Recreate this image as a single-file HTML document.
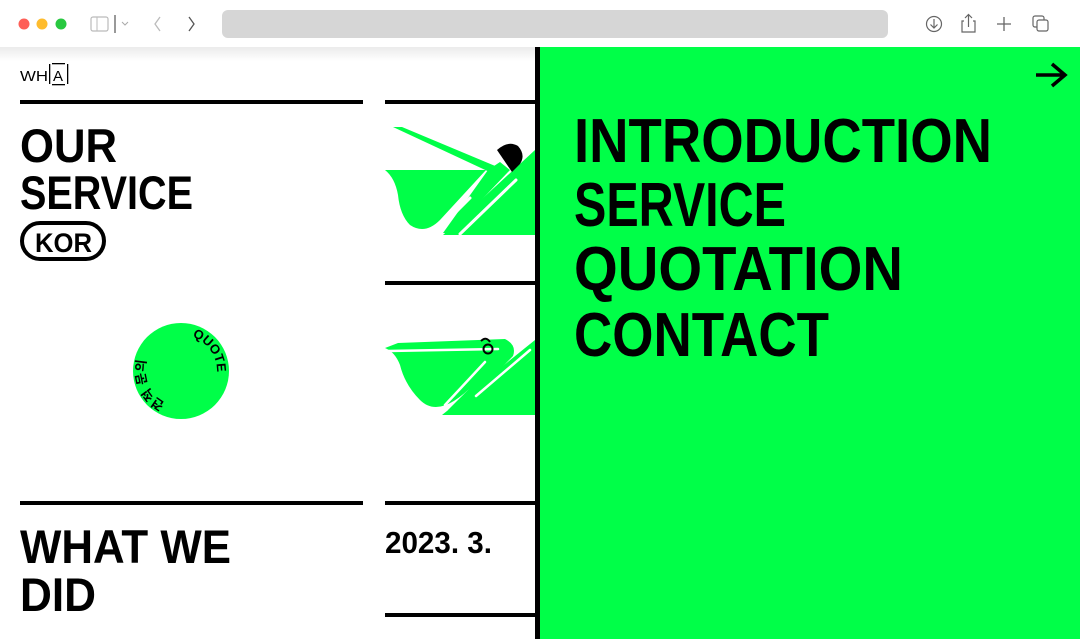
<!DOCTYPE html>
<html><head><meta charset="utf-8"><style>
html,body{margin:0;padding:0;background:#fff;}
body{width:1080px;height:639px;overflow:hidden;}
svg{display:block;}
</style></head><body>
<svg width="1080" height="639" viewBox="0 0 1080 639" xmlns="http://www.w3.org/2000/svg" font-family="'Liberation Sans','Noto Sans CJK KR',sans-serif">
<defs>
<linearGradient id="sh" x1="0" y1="0" x2="0" y2="1"><stop offset="0" stop-color="#000" stop-opacity="0.08"/><stop offset="1" stop-color="#000" stop-opacity="0"/></linearGradient>
<path id="circ" d="M181,407 a36,36 0 1,1 0,-72 a36,36 0 1,1 0,72"/>
</defs>
<rect width="1080" height="639" fill="#fff"/>
<!-- browser chrome -->
<circle cx="24" cy="24" r="5.5" fill="#fe5f57"/>
<circle cx="42" cy="24" r="5.5" fill="#febc2e"/>
<circle cx="61" cy="24" r="5.5" fill="#28c840"/>
<rect x="91" y="17" width="17" height="14" rx="2" fill="none" stroke="#bbb" stroke-width="1.2"/>
<line x1="97" y1="17" x2="97" y2="31" stroke="#bbb" stroke-width="1"/>
<line x1="115" y1="15" x2="115" y2="33" stroke="#555" stroke-width="1.2"/>
<path d="M122 22 l3 3 l3 -3" fill="none" stroke="#aaa" stroke-width="1"/>
<path d="M160 17 l-5 7 l5 7" fill="none" stroke="#bbb" stroke-width="1.3"/>
<path d="M189 17 l5 7 l-5 7" fill="none" stroke="#555" stroke-width="1.3"/>
<rect x="222" y="10" width="666" height="28" rx="6" fill="#d6d6d6"/>
<circle cx="934" cy="24" r="7.5" fill="none" stroke="#666" stroke-width="1.2"/>
<path d="M934 19 v9 M930.5 24.5 l3.5 3.5 l3.5 -3.5" fill="none" stroke="#666" stroke-width="1.2"/>
<path d="M964 21 h-2 v11 h13 v-11 h-2 M968.5 27 v-12 M965 18 l3.5 -3.5 l3.5 3.5" fill="none" stroke="#666" stroke-width="1.2"/>
<path d="M1004 17 v14 M997 24 h14" stroke="#666" stroke-width="1.3"/>
<rect x="1033" y="16" width="11" height="11" rx="2" fill="none" stroke="#666" stroke-width="1.2"/>
<rect x="1037" y="20" width="11" height="11" rx="2" fill="#fff" stroke="#666" stroke-width="1.2"/>
<rect x="0" y="47" width="540" height="14" fill="url(#sh)"/>
<!-- logo -->
<text x="20" y="81" font-size="15" fill="#000" textLength="28" lengthAdjust="spacingAndGlyphs">WH</text>
<rect x="49" y="64" width="1.3" height="20" fill="#000"/>
<rect x="67" y="64" width="1.3" height="20" fill="#000"/>
<rect x="52" y="63" width="13" height="1.3" fill="#000"/>
<rect x="52" y="84" width="13" height="1.3" fill="#000"/>
<text x="53" y="81" font-size="15" fill="#000">A</text>
<!-- rules -->
<rect x="20" y="100" width="343" height="4" fill="#000"/>
<rect x="385" y="100" width="152" height="4" fill="#000"/>
<rect x="385" y="281" width="152" height="4" fill="#000"/>
<rect x="20" y="501" width="343" height="4" fill="#000"/>
<rect x="385" y="501" width="152" height="4" fill="#000"/>
<rect x="385" y="613" width="152" height="4" fill="#000"/>
<!-- left text -->
<text x="20" y="162" font-size="47" font-weight="bold" textLength="97" lengthAdjust="spacingAndGlyphs">OUR</text>
<text x="20" y="209" font-size="47" font-weight="bold" textLength="173" lengthAdjust="spacingAndGlyphs">SERVICE</text>
<rect x="22" y="223" width="82" height="36" rx="18" fill="none" stroke="#000" stroke-width="4"/>
<text x="35" y="252" font-size="27" font-weight="bold" textLength="57" lengthAdjust="spacingAndGlyphs">KOR</text>
<circle cx="181" cy="371" r="48" fill="#00ff48"/>
<text font-size="13" font-weight="bold" fill="#000"><textPath href="#circ" startOffset="7%">견적 문의</textPath></text>
<text font-size="13" font-weight="bold" fill="#000"><textPath href="#circ" startOffset="55%">QUOTE</textPath></text>
<text x="20" y="563" font-size="47" font-weight="bold" textLength="211" lengthAdjust="spacingAndGlyphs">WHAT WE</text>
<text x="20" y="611" font-size="47" font-weight="bold" textLength="76" lengthAdjust="spacingAndGlyphs">DID</text>
<text x="385" y="553" font-size="31" font-weight="bold" textLength="107" lengthAdjust="spacingAndGlyphs">2023. 3.</text>
<!-- pelican 1 -->
<g fill="#00ff48">
<path d="M393,127 L402,127 L500,168 L496,175 Z"/>
<path d="M385,170 L486,170 L440,220 Q425,235 410,225 Q400,215 398,195 Q395,178 385,170 Z"/>
<path d="M488,170 L500,162 L510,170 L450,233 L443,233 Z"/>
<path d="M443,235 L535,150 L535,235 Z"/>
</g>
<path d="M497,150 Q508,140 518,146 Q526,155 520,164 L512,172 Z" fill="#000"/>
<g stroke="#fff" stroke-width="3" stroke-linecap="round"><line x1="516" y1="180" x2="460" y2="234"/><line x1="470" y1="198" x2="440" y2="228"/></g>
<!-- pelican 2 -->
<g fill="#00ff48">
<path d="M385,348 L398,343 L505,339 Q517,345 513,356 L460,410 L448,410 L475,383 Q440,420 420,400 Q405,385 400,365 Q395,352 385,348 Z"/>
<path d="M442,415 L535,340 L535,415 Z"/>
</g>
<g stroke="#fff" stroke-width="2.5" stroke-linecap="round"><line x1="388" y1="351" x2="498" y2="349"/><line x1="485" y1="362" x2="445" y2="405"/><line x1="530" y1="350" x2="476" y2="396"/></g>
<circle cx="488" cy="349" r="4.5" fill="none" stroke="#000" stroke-width="2"/>
<path d="M481,341 Q486,336 490,342" fill="none" stroke="#000" stroke-width="2"/>
<!-- green panel -->
<rect x="535" y="47" width="5" height="592" fill="#000"/>
<rect x="540" y="47" width="540" height="592" fill="#00ff48"/>
<path d="M1036,75 H1064 M1052,64 L1065,75 L1052,86" fill="none" stroke="#000" stroke-width="3.5"/>
<g font-size="62" font-weight="bold" fill="#000">
<text x="574" y="162" textLength="418" lengthAdjust="spacingAndGlyphs">INTRODUCTION</text>
<text x="574" y="226" textLength="212" lengthAdjust="spacingAndGlyphs">SERVICE</text>
<text x="574" y="290" textLength="329" lengthAdjust="spacingAndGlyphs">QUOTATION</text>
<text x="574" y="356" textLength="255" lengthAdjust="spacingAndGlyphs">CONTACT</text>
</g>
</svg>
</body></html>
